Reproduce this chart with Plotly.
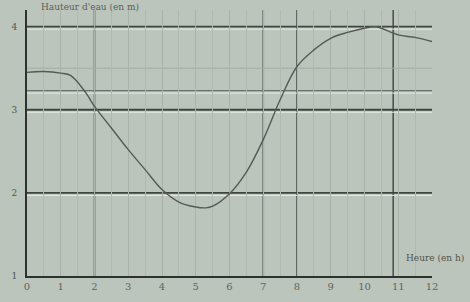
import plotly.graph_objects as go

# Data
hours = [0, 0.5, 1.0, 1.3, 1.75, 2.0, 2.5, 3.0, 3.5, 4.0, 4.5, 5.0, 5.3, 5.5, 6.0, 6.5,
         7.0, 7.5, 8.0, 8.5, 9.0, 9.5, 10.0, 10.3, 10.5, 11.0, 11.5, 12.0]
heights = [3.45, 3.46, 3.44, 3.41, 3.2, 3.04, 2.78, 2.52, 2.28, 2.04, 1.89, 1.83, 1.82, 1.84,
           1.99, 2.25, 2.64, 3.12, 3.52, 3.72, 3.86, 3.93, 3.98, 4.0, 3.98, 3.9, 3.87, 3.82]

x_ticks = list(range(0, 13))
x_tick_labels = [str(v) for v in x_ticks]
y_ticks = [1, 2, 3, 4]
y_tick_labels = ["1", "2", "3", "4"]

dark_vlines = [2, 7, 8, 10.85]
dark_hlines = [2, 3, 3.23, 4]
light_hlines = [3.5]

bg = "#bcc5bc"
ink = "#3f443f"

fig = go.Figure()
fig.add_trace(go.Scatter(x=hours, y=heights, mode="lines", line=dict(color="#555a55", width=1.4, shape="spline"),
                         hoverinfo="skip", showlegend=False))

for xv in dark_vlines:
    fig.add_shape(type="line", x0=xv, x1=xv, y0=1, y1=4.2, xref="x", yref="y",
                  line=dict(color="#4d524d", width=1.6), layer="below")
for yv in dark_hlines:
    fig.add_shape(type="line", x0=0, x1=12, y0=yv, y1=yv, xref="x", yref="y",
                  line=dict(color="#3f443f" if yv != 3.23 else "#6a706a", width=1.8 if yv != 3.23 else 1.3),
                  layer="below")
    fig.add_shape(type="line", x0=0, x1=12, y0=yv - 0.03, y1=yv - 0.03, xref="x", yref="y",
                  line=dict(color="#e6ece6", width=1), layer="below")
for yv in light_hlines:
    fig.add_shape(type="line", x0=0, x1=12, y0=yv, y1=yv, xref="x", yref="y",
                  line=dict(color="#a4aca4", width=1), layer="below")

fig.add_annotation(text="Hauteur d'eau (en m)", x=0.03, y=1.0, xref="paper", yref="paper",
                   xanchor="left", yanchor="bottom", showarrow=False,
                   font=dict(family="DejaVu Serif", size=9, color="#5a5f5a"), yshift=-4)
fig.add_annotation(text="Heure (en h)", x=1.0, y=0.04, xref="paper", yref="paper",
                   xanchor="left", yanchor="bottom", showarrow=False, xshift=-28,
                   font=dict(family="DejaVu Serif", size=9, color="#4f544f"))

fig.update_layout(
    width=470, height=302,
    margin=dict(l=27, r=38, t=10, b=26),
    paper_bgcolor=bg, plot_bgcolor=bg,
    showlegend=False,
    xaxis=dict(range=[0, 12], tickvals=x_ticks, ticktext=x_tick_labels, showgrid=True,
               gridcolor="#aab2aa", gridwidth=1, zeroline=False, showline=True, linecolor="#2e322e",
               linewidth=2, ticks="", tickfont=dict(family="DejaVu Serif", size=10, color="#5f645f"),
               minor=dict(dtick=0.5, showgrid=True, gridcolor="#b0b8b0", gridwidth=1), fixedrange=True),
    yaxis=dict(range=[1, 4.2], tickvals=y_ticks, ticktext=y_tick_labels, showgrid=False,
               zeroline=False, showline=True, linecolor="#2e322e", linewidth=2, ticks="",
               ticklabelstandoff=6,
               tickfont=dict(family="DejaVu Serif", size=9, color="#4f544f"), fixedrange=True),
)

fig.write_html("out.html")
